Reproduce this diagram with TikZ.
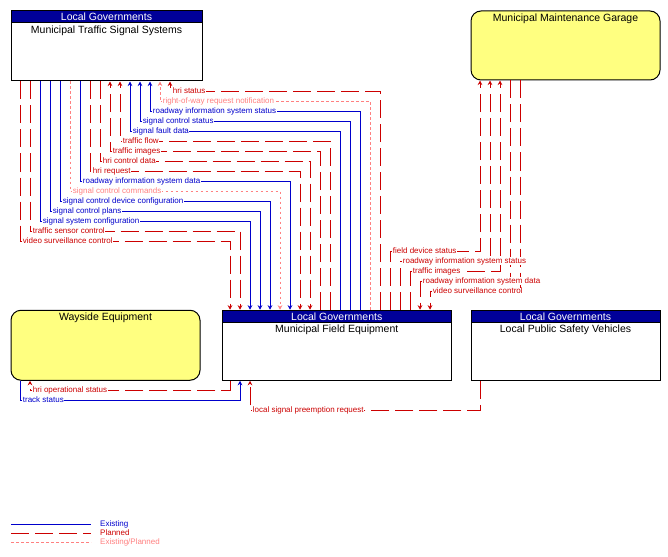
\documentclass[tikz,border=0pt]{standalone}
\usepackage{fontspec}
\setmainfont{Liberation Sans}
\usetikzlibrary{arrows.meta,positioning}

\definecolor{exblue}{RGB}{0,0,204}
\definecolor{plred}{RGB}{204,0,0}
\definecolor{eppink}{RGB}{255,128,128}
\definecolor{hdrblue}{RGB}{0,0,153}
\definecolor{termyellow}{RGB}{255,255,128}

\begin{document}
\begin{tikzpicture}[x=1pt,y=-1pt,>={Stealth[length=4.5pt,width=4.5pt]},
  every node/.style={font=\fontsize{10.5}{12}\selectfont},
  sysbox/.style={draw,line width=1pt,fill=white,minimum height=70pt,inner sep=0},
  termbox/.style={draw,line width=1pt,fill=termyellow,rounded corners=10pt,minimum width=189pt,minimum height=70pt,inner sep=0},
  hdr/.style={draw,line width=1pt,fill=hdrblue,text=white,minimum height=12pt,inner sep=0,anchor=north},
  title/.style={inner sep=0},
  existing/.style={draw=exblue,text=exblue,line width=0.8pt},
  planned/.style={draw=plred,text=plred,line width=0.8pt,dash pattern=on 18pt off 6pt},
  eplanned/.style={draw=eppink,text=eppink,line width=0.8pt,dash pattern=on 2.5pt off 2.5pt},
  lbl/.style={font=\fontsize{8}{9}\selectfont,anchor=west,fill=white,inner sep=0.5pt,xshift=2pt},
  legtext/.style={font=\fontsize{8}{9}\selectfont,anchor=west,inner sep=0}]
\useasboundingbox (0,0) rectangle (668,556);

% elements
\node[sysbox,minimum width=191pt] (mtss) at (106.5,46) {};
\node[hdr,minimum width=191pt] (mtsshdr) at (mtss.north) {Local Governments};
\node[title,below=2pt of mtsshdr] (mtssname) {Municipal Traffic Signal Systems};

\node[termbox,minimum height=69pt] (mmg) at (565.5,45.5) {};
\node[title,below=3pt of mmg.north] (mmgname) {Municipal Maintenance Garage};

\node[termbox] (ws) at (105.5,345.25) {};
\node[title,below=3pt of ws.north] (wsname) {Wayside Equipment};

\node[sysbox,minimum width=229.5pt] (mfe) at (336.75,345.25) {};
\node[hdr,minimum width=229.5pt] (mfehdr) at (mfe.north) {Local Governments};
\node[title,below=2pt of mfehdr] (mfename) {Municipal Field Equipment};

\node[sysbox,minimum width=189pt] (lpsv) at (565.5,345.25) {};
\node[hdr,minimum width=189pt] (lpsvhdr) at (lpsv.north) {Local Governments};
\node[title,below=2pt of lpsvhdr] (lpsvname) {Local Public Safety Vehicles};

% field equipment -> traffic signal systems
\draw[planned,->] (380,0 |- mfe.north) |- (170,91) node[lbl]{hri status} -- (170,0 |- mtss.south);
\draw[eplanned,->] (370,0 |- mfe.north) |- (160,101) node[lbl]{right-of-way request notification} -- (160,0 |- mtss.south);
\draw[existing,->] (360,0 |- mfe.north) |- (150,111) node[lbl]{roadway information system status} -- (150,0 |- mtss.south);
\draw[existing,->] (350,0 |- mfe.north) |- (140,121) node[lbl]{signal control status} -- (140,0 |- mtss.south);
\draw[existing,->] (340,0 |- mfe.north) |- (130,131) node[lbl]{signal fault data} -- (130,0 |- mtss.south);
\draw[planned,->] (330,0 |- mfe.north) |- (120,141) node[lbl]{traffic flow} -- (120,0 |- mtss.south);
\draw[planned,->] (320,0 |- mfe.north) |- (110,151) node[lbl]{traffic images} -- (110,0 |- mtss.south);

% traffic signal systems -> field equipment
\draw[planned,->] (100,0 |- mtss.south) -- (100,161) node[lbl]{hri control data} -| (310,0 |- mfe.north);
\draw[planned,->] (90,0 |- mtss.south) -- (90,171) node[lbl]{hri request} -| (300,0 |- mfe.north);
\draw[existing,->] (80,0 |- mtss.south) -- (80,181) node[lbl]{roadway information system data} -| (290,0 |- mfe.north);
\draw[eplanned,->] (70,0 |- mtss.south) -- (70,191) node[lbl]{signal control commands} -| (280,0 |- mfe.north);
\draw[existing,->] (60,0 |- mtss.south) -- (60,201) node[lbl]{signal control device configuration} -| (270,0 |- mfe.north);
\draw[existing,->] (50,0 |- mtss.south) -- (50,211) node[lbl]{signal control plans} -| (260,0 |- mfe.north);
\draw[existing,->] (40,0 |- mtss.south) -- (40,221) node[lbl]{signal system configuration} -| (250,0 |- mfe.north);
\draw[planned,->] (30,0 |- mtss.south) -- (30,231) node[lbl]{traffic sensor control} -| (240,0 |- mfe.north);
\draw[planned,->] (20,0 |- mtss.south) -- (20,241) node[lbl]{video surveillance control} -| (230,0 |- mfe.north);

% maintenance garage <-> field equipment
\draw[planned,->] (520,0 |- mmg.south) -- (520,291) -- (430,291) node[lbl]{video surveillance control} -- (430,0 |- mfe.north);
\draw[planned,->] (510,0 |- mmg.south) -- (510,281) -- (420,281) node[lbl]{roadway information system data} -- (420,0 |- mfe.north);
\draw[planned,->] (410,0 |- mfe.north) |- (410,271) node[lbl]{traffic images} -| (500,0 |- mmg.south);
\draw[planned,->] (400,0 |- mfe.north) |- (400,261) node[lbl]{roadway information system status} -| (490,0 |- mmg.south);
\draw[planned,->] (390,0 |- mfe.north) |- (390,251) node[lbl]{field device status} -| (480,0 |- mmg.south);

% wayside and public safety vehicles
\draw[planned,->] (230,0 |- mfe.south) |- (30,390) node[lbl]{hri operational status} -- (30,0 |- ws.south);
\draw[existing,->] (20,0 |- ws.south) -- (20,400) node[lbl]{track status} -| (240,0 |- mfe.south);
\draw[planned,->] (480,0 |- lpsv.south) |- (250,410) node[lbl]{local signal preemption request} -- (250,0 |- mfe.south);

% legend
\node[legtext,text=exblue] (legex) at (100,524) {Existing};
\node[legtext,text=plred] (legpl) at (100,533) {Planned};
\node[legtext,text=eppink] (legep) at (100,542) {Existing/Planned};
\draw[existing] (11,524) -- (91,524);
\draw[planned] (11,533) -- (91,533);
\draw[eplanned] (11,542) -- (91,542);
\end{tikzpicture}
\end{document}
